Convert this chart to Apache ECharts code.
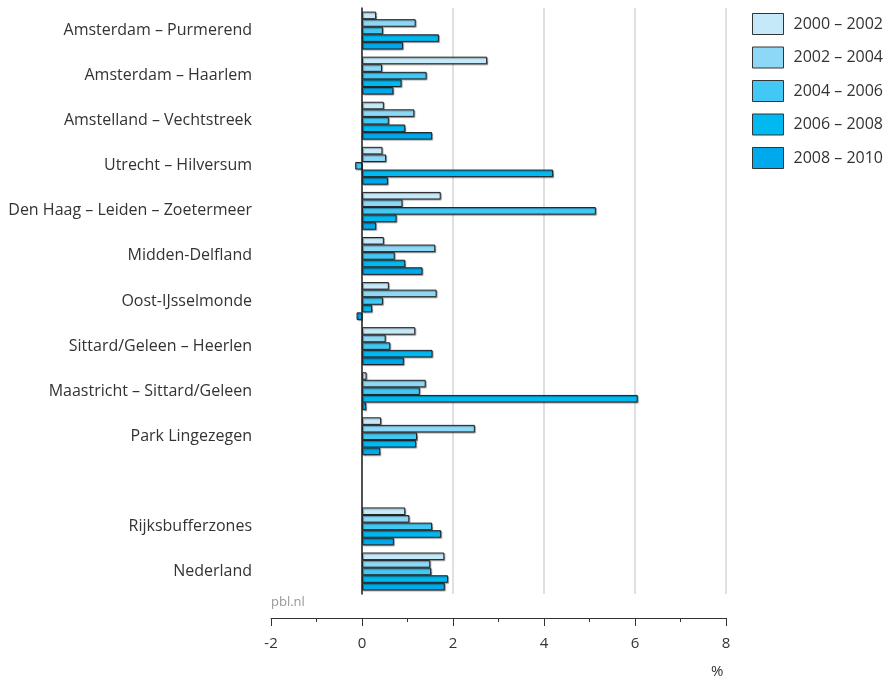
<!DOCTYPE html>
<html>
<head>
<meta charset="utf-8">
<script src="https://cdn.jsdelivr.net/npm/echarts@6/dist/echarts.min.js"></script>
<style>
  html, body { margin: 0; padding: 0; background: #fff; }
  #chart { width: 889px; height: 682px; }
</style>
</head>
<body>
<div id="chart"></div>
<script>
// regions, top to bottom ('' is the blank row before the totals)
const regions = [
  'Amsterdam – Purmerend',
  'Amsterdam – Haarlem',
  'Amstelland – Vechtstreek',
  'Utrecht – Hilversum',
  'Den Haag – Leiden – Zoetermeer',
  'Midden-Delfland',
  'Oost-IJsselmonde',
  'Sittard/Geleen – Heerlen',
  'Maastricht – Sittard/Geleen',
  'Park Lingezegen',
  '',
  'Rijksbufferzones',
  'Nederland'
];

const periods = ['2000 – 2002', '2002 – 2004', '2004 – 2006', '2006 – 2008', '2008 – 2010'];

// growth per period, %
const p2000 = [0.31, 2.75, 0.48, 0.45, 1.73, 0.48, 0.59, 1.17, 0.10, 0.42, null, 0.95, 1.81];
const p2002 = [1.18, 0.44, 1.15, 0.53, 0.89, 1.61, 1.64, 0.52, 1.40, 2.48, null, 1.04, 1.50];
const p2004 = [0.46, 1.42, 0.59, -0.15, 5.14, 0.72, 0.46, 0.62, 1.27, 1.21, null, 1.54, 1.52];
const p2006 = [1.69, 0.87, 0.95, 4.20, 0.76, 0.95, 0.22, 1.55, 6.06, 1.19, null, 1.74, 1.89];
const p2008 = [0.90, 0.69, 1.54, 0.57, 0.31, 1.33, -0.12, 0.92, 0.09, 0.40, null, 0.70, 1.82];

const xTicks = [-2, 8, 2];  // min, max, interval

const colors = ['#c6e9f9', '#8ed8f7', '#41c8f4', '#00b9f1', '#00a9ec'];
const font = '"Open Sans", sans-serif';

const chart = echarts.init(document.getElementById('chart'));

const seriesData = [p2000, p2002, p2004, p2006, p2008];

chart.setOption({
  animation: false,
  color: colors,
  grid: { left: 271, right: 163, top: 8, bottom: 88, outerBoundsMode: 'none', containLabel: false },
  legend: {
    orient: 'vertical',
    left: 747,
    top: 8,
    itemWidth: 31,
    itemHeight: 21,
    itemGap: 11.5,
    icon: 'rect',
    itemStyle: { borderColor: '#333', borderWidth: 1, shadowBlur: 0, shadowOffsetX: 0, shadowOffsetY: 0 },
    textStyle: { fontFamily: font, fontSize: 16, color: '#333', padding: [0, 0, 0, 5] },
    data: periods
  },
  xAxis: {
    type: 'value',
    min: xTicks[0],
    max: xTicks[1],
    interval: xTicks[2],
    offset: 24,
    axisLine: { show: true, lineStyle: { color: '#333', width: 1 } },
    axisTick: { show: true, length: 8, lineStyle: { color: '#333' } },
    minorTick: { show: true, splitNumber: 2, length: 4, lineStyle: { color: '#333' } },
    splitLine: { show: true, showMinLine: false, lineStyle: { color: '#e0e0e0', width: 2 } },
    axisLabel: { fontFamily: font, fontSize: 15, color: '#333', margin: 18 }
  },
  yAxis: {
    type: 'category',
    inverse: true,
    data: regions,
    axisLine: { show: true, onZero: true, lineStyle: { color: '#222', width: 1.5 } },
    axisTick: { show: false },
    axisLabel: { fontFamily: font, fontSize: 16, color: '#333', margin: 19 }
  },
  graphic: [
    { type: 'text', left: 271, top: 596, style: { text: 'pbl.nl', fontFamily: font, fontSize: 13, fill: '#999' } },
    { type: 'text', left: 711, top: 664, style: { text: '%', fontFamily: font, fontSize: 15, fill: '#333' } }
  ],
  series: seriesData.map((d, i) => ({
    name: periods[i],
    type: 'bar',
    data: d,
    barGap: '0%',
    barCategoryGap: '16%',
    itemStyle: {
      color: colors[i],
      borderColor: '#222',
      borderWidth: 1,
      shadowColor: 'rgba(0,0,0,0.35)',
      shadowOffsetX: 1,
      shadowOffsetY: 1,
      shadowBlur: 1
    }
  }))
});
</script>
</body>
</html>
